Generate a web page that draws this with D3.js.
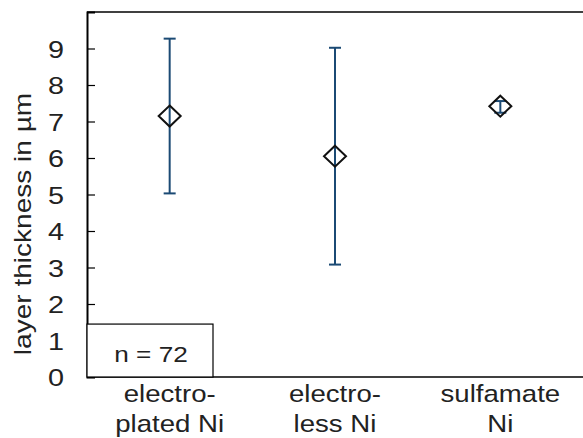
<!DOCTYPE html>
<html>
<head>
<meta charset="utf-8">
<script src="https://cdn.jsdelivr.net/npm/d3@7"></script>
<style>
  body { margin: 0; background: #fff; }
  svg { display: block; font-family: "Liberation Sans", Arial, sans-serif; }
</style>
</head>
<body>
<div class="center"></div>
<script>
const categories = [["electro-", "plated Ni"], ["electro-", "less Ni"], ["sulfamate", "Ni"]];
const means = [7.15, 6.05, 7.42];
const upper = [9.27, 9.02, 7.56];
const lower = [5.03, 3.08, 7.24];
const yTicks = [0, 1, 2, 3, 4, 5, 6, 7, 8, 9];

const w = 583, h = 438;
const padL = 87, padT = 12, padR = 583, padB = 377;
const stretch = 1.2; // glyphs in the picture are wider than Liberation Sans

const svg = d3.select(".center")
    .append("svg")
    .attr("width", w)
    .attr("height", h);

const xScale = d3.scaleBand()
    .domain(d3.range(categories.length))
    .range([padL, padR]);

const yScale = d3.scaleLinear()
    .domain([0, 10])
    .range([padB, padT]);

const navy = "#1b4a74";
const txt = "#222";

// frame
svg.append("line").attr("x1", padL).attr("x2", padR).attr("y1", padT).attr("y2", padT)
    .attr("stroke", "#000").attr("stroke-width", 1.5);
svg.append("line").attr("x1", padL).attr("x2", padR).attr("y1", padB).attr("y2", padB)
    .attr("stroke", "#000").attr("stroke-width", 1.5);

// y axis
const yAxis = d3.axisLeft(yScale)
    .tickValues(yTicks)
    .tickSize(-8)
    .tickFormat(d3.format("d"));

const gy = svg.append("g")
    .attr("transform", `translate(${padL},0)`)
    .call(yAxis);
gy.select(".domain").attr("stroke", "#000").attr("stroke-width", 2);
gy.selectAll(".tick line").attr("stroke", "#000").attr("stroke-width", 1.2);
gy.selectAll(".tick text")
    .attr("x", 0)
    .attr("dy", "0.36em")
    .attr("transform", `translate(-23,0) scale(${stretch},1)`)
    .attr("font-size", 24)
    .attr("fill", txt)
    .attr("font-family", "Liberation Sans, Arial, sans-serif");

// y title
svg.append("text")
    .attr("transform", `translate(31,${224}) rotate(-90) scale(1.22,1)`)
    .attr("text-anchor", "middle")
    .attr("font-size", 23)
    .attr("fill", txt)
    .text("layer thickness in µm");

// x labels
const xg = svg.selectAll(".xlab")
    .data(categories)
    .enter()
    .append("g")
    .attr("class", "xlab")
    .attr("transform", (d, i) => `translate(${xScale(i) + xScale.bandwidth() / 2},0) scale(1.15,1)`);
xg.append("text").attr("y", 402).attr("text-anchor", "middle")
    .attr("font-size", 24).attr("fill", txt).text(d => d[0]);
xg.append("text").attr("y", 432).attr("text-anchor", "middle")
    .attr("font-size", 24).attr("fill", txt).text(d => d[1]);

// n box
svg.append("rect")
    .attr("x", padL).attr("y", yScale(1.45))
    .attr("width", 126).attr("height", padB - yScale(1.45))
    .attr("fill", "#fff").attr("stroke", "#000").attr("stroke-width", 1.2);
svg.append("text")
    .attr("transform", `translate(151,362) scale(1.19,1)`)
    .attr("text-anchor", "middle")
    .attr("font-size", 22)
    .attr("fill", txt)
    .text("n = 72");

// error bars
const cx = i => xScale(i) + xScale.bandwidth() / 2;
const eb = svg.selectAll(".err")
    .data(means)
    .enter()
    .append("g")
    .attr("class", "err")
    .attr("stroke", navy)
    .attr("stroke-width", 2);
eb.append("line").attr("x1", (d, i) => cx(i)).attr("x2", (d, i) => cx(i))
    .attr("y1", (d, i) => yScale(upper[i])).attr("y2", (d, i) => yScale(lower[i]));
eb.append("line").attr("x1", (d, i) => cx(i) - 6).attr("x2", (d, i) => cx(i) + 6)
    .attr("y1", (d, i) => yScale(upper[i])).attr("y2", (d, i) => yScale(upper[i]));
eb.append("line").attr("x1", (d, i) => cx(i) - 6).attr("x2", (d, i) => cx(i) + 6)
    .attr("y1", (d, i) => yScale(lower[i])).attr("y2", (d, i) => yScale(lower[i]));

// diamonds
svg.selectAll(".mk")
    .data(means)
    .enter()
    .append("path")
    .attr("class", "mk")
    .attr("d", "M0,-10.5L11,0L0,10.5L-11,0Z")
    .attr("transform", (d, i) => `translate(${cx(i)},${yScale(d)})`)
    .attr("fill", "none")
    .attr("stroke", "#111")
    .attr("stroke-width", 2);
</script>
</body>
</html>
